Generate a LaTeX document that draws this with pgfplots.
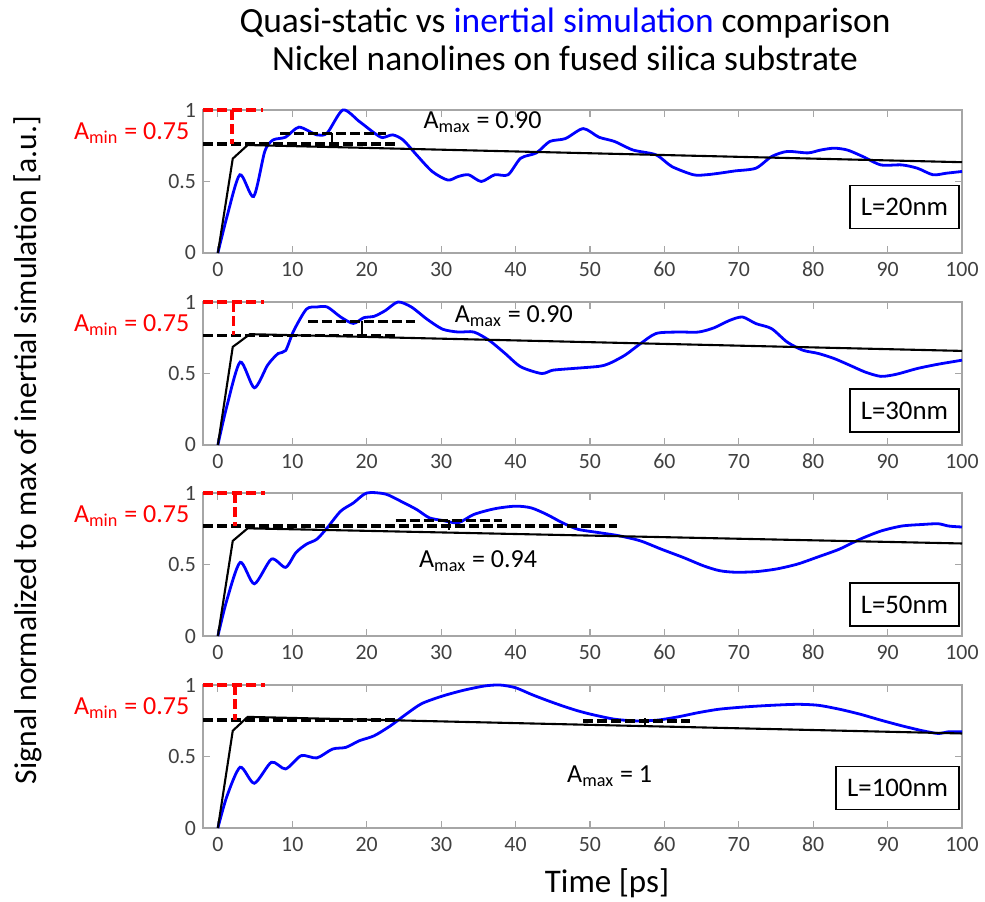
\documentclass[border=0pt]{standalone}
\usepackage{pgfplots}
\pgfplotsset{compat=1.18}
\usepackage{fontspec}
\setmainfont{Carlito}
\definecolor{axgray}{HTML}{A6A6A6}
\definecolor{tickgray}{HTML}{404040}
\pgfplotsset{
  panel/.style={
    scale only axis, width=379.5pt, height=71.5pt,
    anchor=south west,
    xmin=-2, xmax=100, ymin=0, ymax=1,
    xtick={0,10,...,100}, ytick={0,0.5,1},
    yticklabels={0,0.5,1},
    axis line style={axgray, line width=0.6pt},
    tick style={axgray, line width=0.6pt},
    major tick length=3.5pt,
    tick align=inside,
    /pgf/number format/assume math mode=true,
    ticklabel style={font=\fontsize{10.9pt}{12pt}\selectfont, text=tickgray},
    xticklabel style={yshift=-1pt},
    clip=false,
  },
  blu/.style={blue, line width=1.4pt, smooth, tension=0.45},
  qs/.style={black, line width=1.05pt},
  bdash/.style={black, line width=1.65pt, dash pattern=on 5pt off 2pt},
  rdash/.style={red, line width=1.75pt, dash pattern=on 5pt off 2.2pt},
  brk/.style={black, line width=1pt},
}
\tikzset{
  lbox/.style={draw, line width=0.75pt, anchor=east, inner xsep=5.5pt, minimum height=21.5pt,
    font=\fontsize{13.4pt}{15pt}\selectfont},
}
\newcommand{\annfont}{\fontsize{13pt}{15pt}\selectfont}
\begin{document}
\begin{tikzpicture}
\useasboundingbox (0,0) rectangle (492.5pt,450.5pt);
\node[align=center, font=\fontsize{17.7pt}{19pt}\selectfont] at (282.5pt,431pt)
  {Quasi-static vs \textcolor{blue}{inertial simulation} comparison\\Nickel nanolines on fused silica substrate};
\node[rotate=90, font=\fontsize{15.8pt}{17pt}\selectfont] at (14pt,225.5pt)
  {Signal normalized to max of inertial simulation [a.u.]};
\node[font=\fontsize{16.5pt}{18pt}\selectfont] at (303.5pt,9pt) {Time [ps]};

% ---------------- Panel 1: L=20nm
\begin{axis}[panel, at={(101.5pt,324pt)}]
\addplot[blu] coordinates {
(0,0) (1.2,0.25) (2.95,0.547) (4.8,0.395) (6.3,0.71) (7.4,0.79) (9.1,0.81)
(10.9,0.88) (13.3,0.826) (14.7,0.84) (16.8,1.0) (19,0.92) (21,0.84) (22.1,0.807)
(23.5,0.826) (24.9,0.79) (26.7,0.686) (28.8,0.57) (30.9,0.51) (32.3,0.535)
(33.7,0.547) (35.4,0.50) (37.2,0.547) (39,0.547) (40.7,0.663) (42.8,0.70)
(44.6,0.78) (46.7,0.80) (49.1,0.87) (51.2,0.81) (53.3,0.78) (55.8,0.72)
(58.9,0.686) (61,0.605) (63.9,0.547) (65.6,0.547) (67.4,0.558) (69.5,0.574)
(72.3,0.593) (74.4,0.674) (76.5,0.71) (79.3,0.70) (81,0.72) (82.8,0.733)
(84.6,0.72) (86.7,0.674) (89.1,0.616) (91.9,0.616) (94,0.593) (96.1,0.547)
(97.9,0.558) (100,0.57)};
\addplot[qs] coordinates {(0,0) (2,0.66) (4,0.755) (100,0.635)};
\addplot[bdash] coordinates {(-2,0.763) (23.9,0.763)};
\addplot[bdash] coordinates {(8.4,0.837) (22.6,0.837)};
\addplot[brk] coordinates {(15.4,0.837) (15.4,0.763)};
\addplot[rdash] coordinates {(-2,1) (6,1)};
\addplot[rdash] coordinates {(1.9,1) (1.9,0.763)};
\node[anchor=east, red, font=\annfont] at (axis cs:-2.9,0.84) {A\textsubscript{min} = 0.75};
\node[anchor=west, font=\annfont] at (axis cs:26.7,0.915) {A\textsubscript{max} = 0.90};
\node[lbox] at (axis cs:99.7,0.32) {L=20nm};
\end{axis}

% ---------------- Panel 2: L=30nm
\begin{axis}[panel, at={(101.5pt,228pt)}]
\addplot[blu] coordinates {
(0,0) (1.2,0.27) (3.0,0.58) (4.9,0.40) (6.7,0.56) (8.1,0.64) (9.1,0.66)
(10.2,0.80) (11.9,0.95) (13.3,0.965) (14.7,0.965) (16.5,0.895) (18.2,0.85)
(19.6,0.89) (21,0.90) (22.5,0.94) (24.2,1.0) (26,0.965) (28.1,0.88) (30.2,0.81)
(32.3,0.79) (34.4,0.79) (36.5,0.73) (38.6,0.64) (40.7,0.547) (43.5,0.50)
(45,0.523) (47.7,0.535) (51.2,0.55) (52.6,0.57) (54.7,0.628) (56.8,0.709)
(58.9,0.78) (61.8,0.79) (64.6,0.79) (66.7,0.82) (68.8,0.872) (70.5,0.895)
(72.3,0.849) (74.4,0.814) (76.5,0.72) (78.6,0.663) (80.7,0.64) (82.8,0.605)
(84.9,0.558) (87,0.51) (89.1,0.48) (91.2,0.495) (94,0.535) (96.8,0.565)
(100,0.593)};
\addplot[qs] coordinates {(0,0) (2,0.686) (4.3,0.775) (100,0.658)};
\addplot[bdash] coordinates {(-2,0.767) (23.9,0.767)};
\addplot[bdash] coordinates {(12.1,0.865) (26.5,0.865)};
\addplot[brk] coordinates {(19.4,0.865) (19.4,0.767)};
\addplot[rdash] coordinates {(-2,1) (6.2,1)};
\addplot[rdash] coordinates {(2.1,1) (2.1,0.767)};
\node[anchor=east, red, font=\annfont] at (axis cs:-2.9,0.84) {A\textsubscript{min} = 0.75};
\node[anchor=west, font=\annfont] at (axis cs:30.9,0.90) {A\textsubscript{max} = 0.90};
\node[lbox] at (axis cs:99.7,0.24) {L=30nm};
\end{axis}

% ---------------- Panel 3: L=50nm
\begin{axis}[panel, at={(101.5pt,132.5pt)}]
\addplot[blu] coordinates {
(0,0) (1.2,0.25) (3.0,0.515) (4.9,0.365) (7.2,0.538) (9.1,0.48) (10.5,0.584)
(11.9,0.642) (13.3,0.677) (14.7,0.757) (16.5,0.873) (18.2,0.93) (20,1.0)
(22.5,0.993) (24.6,0.942) (26.7,0.885) (28.4,0.827) (30.2,0.808) (32.3,0.792)
(34.4,0.85) (37.2,0.89) (40,0.908) (42.1,0.896) (44.2,0.85) (46.3,0.792)
(48.4,0.746) (51.2,0.723) (54,0.70) (56.8,0.665) (59.6,0.607) (62.5,0.55)
(65.3,0.49) (67.4,0.457) (69.5,0.446) (72.3,0.45) (75.1,0.469) (77.9,0.503)
(80.7,0.554) (83.5,0.607) (86.3,0.677) (89.1,0.734) (91.9,0.769) (94.7,0.78)
(96.8,0.785) (98.2,0.769) (100,0.762)};
\addplot[qs] coordinates {(0,0) (2,0.665) (4,0.753) (100,0.647)};
\addplot[bdash] coordinates {(-2,0.769) (53.7,0.769)};
\addplot[bdash] coordinates {(23.9,0.808) (38.2,0.808)};
\addplot[brk] coordinates {(31.1,0.808) (31.1,0.74)};
\addplot[rdash] coordinates {(-2,1) (6.3,1)};
\addplot[rdash] coordinates {(2.3,1) (2.3,0.769)};
\node[anchor=east, red, font=\annfont] at (axis cs:-2.9,0.84) {A\textsubscript{min} = 0.75};
\node[anchor=west, font=\annfont] at (axis cs:26.1,0.524) {A\textsubscript{max} = 0.94};
\node[lbox] at (axis cs:99.7,0.22) {L=50nm};
\end{axis}

% ---------------- Panel 4: L=100nm
\begin{axis}[panel, at={(101.5pt,36.5pt)}]
\addplot[blu] coordinates {
(0,0) (1.2,0.22) (3.0,0.425) (4.9,0.313) (7.2,0.46) (9.1,0.413) (11.2,0.506)
(13.3,0.49) (15.4,0.552) (17.2,0.564) (19,0.61) (21,0.645) (23.2,0.715)
(25.3,0.796) (27.4,0.87) (30.2,0.923) (33,0.963) (35.8,0.993) (37.9,1.0)
(40,0.981) (42.1,0.935) (44.2,0.893) (46.3,0.854) (48.4,0.819) (50.5,0.791)
(53.3,0.761) (56.1,0.749) (59,0.754) (61.8,0.777) (64.6,0.807) (67.4,0.831)
(70.9,0.847) (74.4,0.858) (77.9,0.865) (80.7,0.858) (83.5,0.831) (86.3,0.796)
(89.1,0.754) (91.9,0.715) (94.7,0.68) (96.8,0.661) (98.2,0.673) (100,0.673)};
\addplot[qs] coordinates {(0,0) (2,0.68) (4,0.777) (100,0.661)};
\addplot[bdash] coordinates {(-2,0.756) (24.2,0.756)};
\addplot[bdash] coordinates {(49.1,0.749) (63.5,0.749)};
\addplot[brk] coordinates {(57.4,0.768) (57.4,0.708)};
\addplot[rdash] coordinates {(-2,1) (6.3,1)};
\addplot[rdash] coordinates {(2.3,1) (2.3,0.756)};
\node[anchor=east, red, font=\annfont] at (axis cs:-2.9,0.84) {A\textsubscript{min} = 0.75};
\node[anchor=west, font=\annfont] at (axis cs:46,0.364) {A\textsubscript{max} = 1};
\node[lbox] at (axis cs:99.7,0.28) {L=100nm};
\end{axis}
\end{tikzpicture}
\end{document}
